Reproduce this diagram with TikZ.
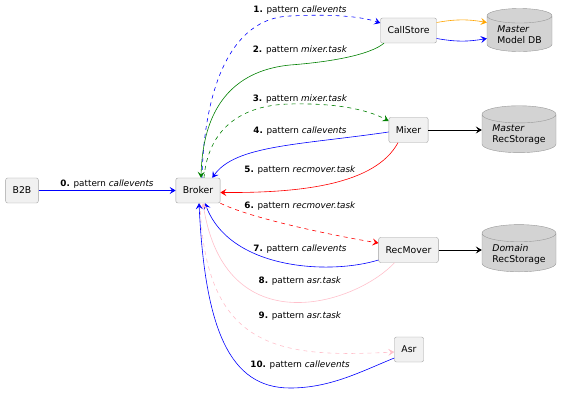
\documentclass[tikz,border=0pt]{standalone}
\usepackage{fontspec}
\setmainfont{DejaVu Sans}
\usetikzlibrary{arrows.meta,shapes.geometric}
\definecolor{boxfill}{HTML}{F1F1F1}
\definecolor{boxline}{HTML}{A0A0A0}
\definecolor{dbfill}{HTML}{D3D3D3}
\definecolor{dbline}{HTML}{999999}
\definecolor{plorange}{HTML}{FFA500}
\definecolor{plgreen}{HTML}{008000}
\definecolor{plpink}{HTML}{FFC0CB}

\begin{document}
\begin{tikzpicture}[x=1pt,y=-1pt,
 comp/.style={draw=boxline,fill=boxfill,rounded corners=2pt,minimum height=25pt,inner xsep=7pt,font=\fontsize{9.3}{11}\selectfont},
 db/.style={cylinder,shape border rotate=90,aspect=0.3,draw=dbline,fill=dbfill,align=left,inner sep=2pt,font=\fontsize{9.3}{11}\selectfont,execute at begin node={\rule{0pt}{16pt}}},
 msg/.style={-{Stealth[length=6pt,width=7pt,inset=2.5pt]},line width=0.6pt},
 async/.style={msg,dash pattern=on 4pt off 4pt},
 lbl/.style={text=black,font=\fontsize{8.8}{10}\selectfont,inner sep=0pt}]
 \useasboundingbox (0,0) rectangle (567,411);
 \node[comp] (b2b) at (22,190.5) {B2B};
 \node[comp] (broker) at (198,190.5) {Broker};
 \node[comp] (callstore) at (408.5,30.5) {CallStore};
 \node[comp] (mixer) at (408.5,130) {Mixer};
 \node[comp] (recmover) at (408.5,250) {RecMover};
 \node[comp] (asr) at (409,349.5) {Asr};
 \node[db,minimum width=65pt,minimum height=43pt] (modeldb) at (519.5,35) {\textit{Master}\\Model DB};
 \node[db,minimum width=74pt,minimum height=43pt] (masterrec) at (519,135) {\textit{Master}\\RecStorage};
 \node[db,minimum width=74pt,minimum height=43pt] (domainrec) at (519,254) {\textit{Domain}\\RecStorage};
 % messages
 \draw[msg,blue] (b2b)--(broker) node[lbl] (l0) at (107,184) {\textbf{0.} pattern \textit{callevents}};
 \draw[async,blue] ([xshift=4pt]broker.north) .. controls (204,90) and (230,18) .. (290,16) .. controls (330,14) and (360,16) .. ([yshift=7.5pt]callstore.west) node[lbl] (l1) at (300,10) {\textbf{1.} pattern \textit{callevents}};
 \draw[msg,plgreen] ([xshift=-24.5pt]callstore.south) .. controls (370,55) and (330,62) .. (290,65) .. controls (240,70) and (203,100) .. ([xshift=3pt]broker.north) node[lbl] (l2) at (300,50) {\textbf{2.} pattern \textit{mixer.task}};
 \draw[async,plgreen] ([xshift=6pt]broker.north) .. controls (208,130) and (240,105) .. (290,104) .. controls (330,103) and (365,108) .. ([yshift=9pt]mixer.west) node[lbl] (l3) at (300,99) {\textbf{3.} pattern \textit{mixer.task}};
 \draw[msg,blue] ([yshift=-2pt]mixer.west) .. controls (300,145) and (235,145) .. ([xshift=-8pt]broker.north east) node[lbl] (l4) at (300,131) {\textbf{4.} pattern \textit{callevents}};
 \draw[msg,red] ([xshift=-10.5pt]mixer.south) .. controls (375,185) and (300,193) .. ([yshift=-2pt]broker.east) node[lbl] (l5) at (300,170) {\textbf{5.} pattern \textit{recmover.task}};
 \draw[async,red] (broker.south east) .. controls (250,218) and (330,235) .. ([yshift=7pt]recmover.west) node[lbl] (l6) at (300,206) {\textbf{6.} pattern \textit{recmover.task}};
 \draw[msg,blue] ([yshift=-10pt]recmover.west) .. controls (330,275) and (230,270) .. ([xshift=7pt]broker.south) node[lbl] (l7) at (300,249) {\textbf{7.} pattern \textit{callevents}};
 \draw[msg,plpink] ([xshift=-14pt]recmover.south) .. controls (355,305) and (225,345) .. ([xshift=5pt]broker.south) node[lbl] (l8) at (300,281) {\textbf{8.} pattern \textit{asr.task}};
 \draw[async,plpink] ([xshift=2pt]broker.south) .. controls (205,350) and (280,358) .. ([yshift=-2.5pt]asr.west) node[lbl] (l9) at (300,316) {\textbf{9.} pattern \textit{asr.task}};
 \draw[msg,blue] ([yshift=-8.5pt]asr.west) .. controls (360,372) and (330,388) .. (290,388) .. controls (230,388) and (205,330) .. ([xshift=1pt]broker.south) node[lbl] (l10) at (300,365) {\textbf{10.} pattern \textit{callevents}};
 % storage
 \draw[msg,plorange] ([yshift=8pt]callstore.east) to[bend left=10] ([yshift=8pt]callstore.east -| modeldb.west);
 \draw[msg,blue] ([yshift=-8pt]callstore.east) to[bend right=10] ([yshift=-8pt]callstore.east -| modeldb.west);
 \draw[msg,black] (mixer) -- (mixer -| masterrec.west);
 \draw[msg,black] (recmover) -- (recmover -| domainrec.west);
\end{tikzpicture}
\end{document}
